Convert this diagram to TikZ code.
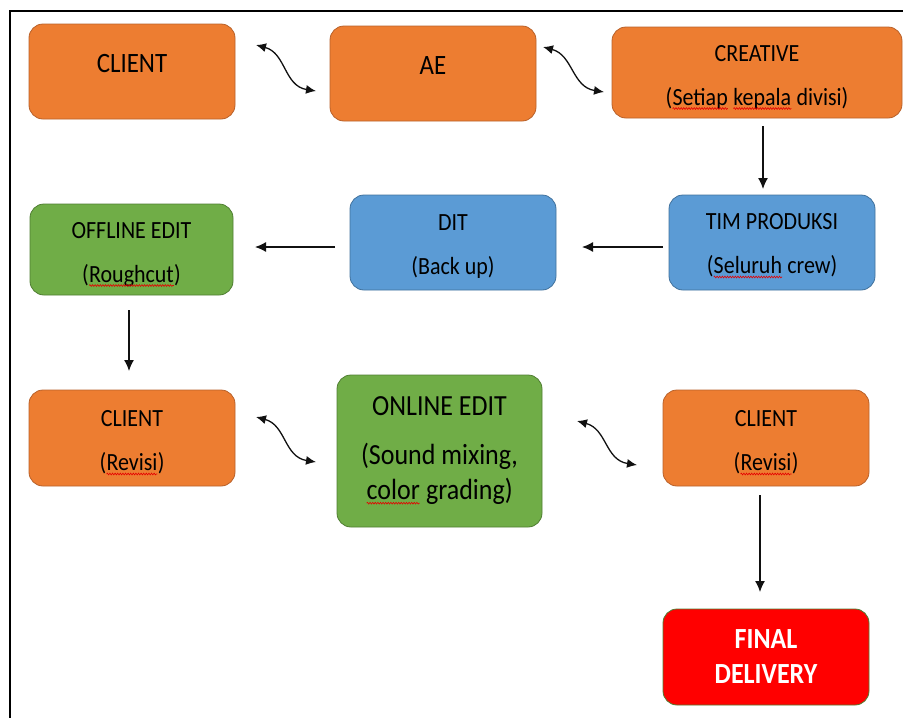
\documentclass[tikz,border=0pt]{standalone}
\usepackage{fontspec}
\setmainfont{Carlito}[FakeStretch=0.89]
\usetikzlibrary{arrows.meta,calc,decorations.pathmorphing}
\newcommand\sqw[1]{\tikz[baseline=(sqwd.base), x=1pt, y=1pt]{\node[inner sep=0pt, outer sep=0pt, minimum width=0pt, minimum height=0pt, text height=, text depth=, draw=none, fill=none, shape=rectangle] (sqwd) {#1};\draw[sharp corners, red!90!black, line width=0.6pt, decorate, decoration={snake,amplitude=0.9pt,segment length=2.6pt}] ([yshift=-3.2pt]sqwd.base west) -- ([yshift=-3.2pt]sqwd.base east);}}
\definecolor{orFill}{HTML}{ED7D31}
\definecolor{orLine}{HTML}{B8612A}
\definecolor{blFill}{HTML}{5B9BD5}
\definecolor{blLine}{HTML}{41719C}
\definecolor{grFill}{HTML}{70AD47}
\definecolor{grLine}{HTML}{507E32}
\definecolor{rdFill}{HTML}{FF0000}
\definecolor{lnCol}{HTML}{111111}
\tikzset{
  panel/.style={rounded corners=14pt, line width=0.8pt, inner sep=0pt},
  obox/.style={panel, fill=orFill, draw=orLine},
  bbox/.style={panel, fill=blFill, draw=blLine},
  gbox/.style={panel, fill=grFill, draw=grLine},
  rbox/.style={panel, fill=rdFill, draw=grLine},
  txt/.style={align=center, inner sep=0pt, text=black},
  arr/.style={draw=lnCol, line width=1.3pt, -{Latex[length=11pt,width=10pt]}},
  darr/.style={draw=lnCol, line width=1.3pt, {Latex[length=10pt,width=9pt]}-{Latex[length=10pt,width=9pt]}},
  fbig/.style={font=\fontsize{28}{30}\selectfont},
  fmid/.style={font=\fontsize{24.7}{44}\selectfont},
}
\begin{document}
\begin{tikzpicture}[x=1pt,y=-1pt]
\useasboundingbox (0,0) rectangle (903,718);
% frame
\draw[line width=2.5pt, black] (10,718) -- (10,11) -- (903,11);

% boxes
\node[obox, minimum width=206pt, minimum height=95pt] (client1) at (132,71.5) {};
\node[obox, minimum width=206pt, minimum height=95pt] (ae) at (433,73.5) {};
\node[obox, minimum width=290pt, minimum height=91pt] (creative) at (757,72.5) {};
\node[bbox, minimum width=206pt, minimum height=95pt] (tim) at (772,242.5) {};
\node[bbox, minimum width=206pt, minimum height=95pt] (dit) at (453,242.5) {};
\node[gbox, minimum width=203pt, minimum height=91pt] (offline) at (131.5,249.5) {};
\node[obox, minimum width=206pt, minimum height=96pt] (clientL) at (132,438) {};
\node[gbox, minimum width=205pt, minimum height=152pt] (online) at (439.5,451) {};
\node[obox, minimum width=206pt, minimum height=96pt] (clientR) at (766,438) {};
\node[rbox, minimum width=206pt, minimum height=96pt] (final) at (766,657) {};

% texts
\node[txt, fbig, anchor=base] (client1-t) at ([yshift=-0.5pt]client1.center) {CLIENT};
\node[txt, fbig, anchor=base] (ae-t) at ([yshift=-0.5pt]ae.center) {AE};
\node[txt, fmid] (creative-t) at ([yshift=-5pt]creative.center) {CREATIVE\\(\sqw{Setiap} \sqw{kepala} divisi)};
\node[txt, fmid] (tim-t) at ([yshift=-3.5pt]tim.center) {TIM PRODUKSI\\(\sqw{Seluruh} crew)};
\node[txt, fmid] (dit-t) at ([yshift=-4.5pt]dit.center) {DIT\\(Back up)};
\node[txt, fmid] (offline-t) at ([yshift=-5pt]offline.center) {OFFLINE EDIT\\(\sqw{Roughcut})};
\node[txt, fmid] (clientL-t) at ([yshift=-5pt]clientL.center) {CLIENT\\(\sqw{Revisi})};
\node[txt, font=\fontsize{29.2}{35}\selectfont] (online-t) at (online.center) {ONLINE EDIT\\[14pt](Sound mixing,\\\sqw{color} grading)};
\node[txt, fmid] (clientR-t) at ([yshift=-5pt]clientR.center) {CLIENT\\(\sqw{Revisi})};
\node[txt, text=white, font=\fontsize{29.2}{35}\bfseries\selectfont] (final-t) at (final.center) {FINAL\\DELIVERY};

% wavy double arrows
\coordinate (w1a) at (256,45);  \coordinate (w1b) at (316,91);
\coordinate (w2a) at (543,47);  \coordinate (w2b) at (604,92);
\coordinate (w3a) at (256,417); \coordinate (w3b) at (316,462);
\coordinate (w4a) at (577,421); \coordinate (w4b) at (637,465);
\draw[darr] (w1a) .. controls ($(w1a)+(30,8)$) and ($(w1b)+(-32,-5)$) .. (w1b);
\draw[darr] (w2a) .. controls ($(w2a)+(30,8)$) and ($(w2b)+(-32,-5)$) .. (w2b);
\draw[darr] (w3a) .. controls ($(w3a)+(30,8)$) and ($(w3b)+(-32,-5)$) .. (w3b);
\draw[darr] (w4a) .. controls ($(w4a)+(30,8)$) and ($(w4b)+(-32,-5)$) .. (w4b);

% straight arrows
\coordinate (a1s) at (763,126); \coordinate (a1e) at (763,189);
\coordinate (a2s) at (663,247); \coordinate (a2e) at (582,247);
\coordinate (a3s) at (335,247); \coordinate (a3e) at (255,247);
\coordinate (a4s) at (129,310); \coordinate (a4e) at (129,371);
\coordinate (a5s) at (760,495); \coordinate (a5e) at (760,592);
\draw[arr] (a1s) -- (a1e);
\draw[arr] (a2s) -- (a2e);
\draw[arr] (a3s) -- (a3e);
\draw[arr] (a4s) -- (a4e);
\draw[arr] (a5s) -- (a5e);
\end{tikzpicture}
\end{document}
